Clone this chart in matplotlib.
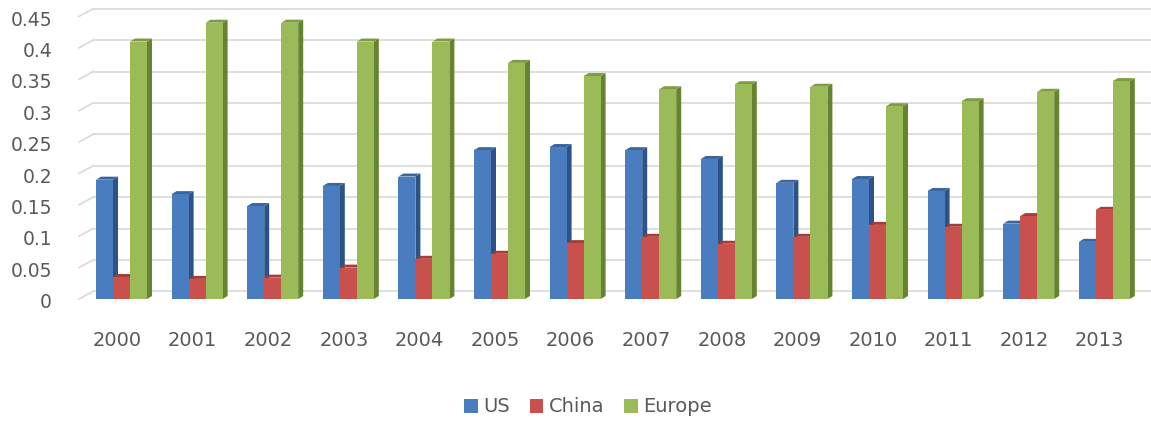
import matplotlib
matplotlib.use("Agg")
import matplotlib.pyplot as plt
from matplotlib.patches import Polygon, Rectangle, Patch

years = ["2000", "2001", "2002", "2003", "2004", "2005", "2006",
         "2007", "2008", "2009", "2010", "2011", "2012", "2013"]
us = [0.190, 0.167, 0.148, 0.180, 0.195, 0.237, 0.242,
      0.237, 0.223, 0.185, 0.191, 0.172, 0.120, 0.091]
china = [0.035, 0.032, 0.034, 0.050, 0.064, 0.072, 0.089,
         0.099, 0.088, 0.099, 0.118, 0.115, 0.132, 0.142]
europe = [0.410, 0.440, 0.440, 0.410, 0.410, 0.376, 0.355,
          0.334, 0.342, 0.338, 0.307, 0.315, 0.330, 0.347]
y_ticks = [0, 0.05, 0.1, 0.15, 0.2, 0.25, 0.3, 0.35, 0.4, 0.45]
y_tick_labels = ["0", "0.05", "0.1", "0.15", "0.2", "0.25", "0.3", "0.35", "0.4", "0.45"]

series = [("US", us), ("China", china), ("Europe", europe)]
# front, side, top shades per series
shades = {
    "US": ("#4a7cc0", "#2c5286", "#3a669f"),
    "China": ("#c8504d", "#8c2e2b", "#a83c39"),
    "Europe": ("#9bbb59", "#66832f", "#7e9c43"),
}

W, H = 1151, 421
fig = plt.figure(figsize=(W / 100, H / 100), dpi=100)
plt.rcParams["font.family"] = ["DejaVu Sans"]
text_c = "#595959"

# axes laid out in pixels: zero floor at y=299, category pitch ~75.6 px
left_px, base_px, px_per_cat, px_per_unit = 79, 299, 75.6, 628.0
ax = fig.add_axes([left_px / W, (H - base_px) / H, (W - left_px) / W, base_px / H])
x_lo = (left_px - 117) / px_per_cat
ax.set_xlim(x_lo, x_lo + (W - left_px) / px_per_cat)
ax.set_ylim(0, base_px / px_per_unit)
ax.axis("off")

grid_c = "#d9d9d9"
wall_dx = (93 - left_px) / px_per_cat
wall_dy = 0.012
x_hi = ax.get_xlim()[1]
for v in y_ticks:
    ax.plot([x_lo, x_lo + wall_dx], [v, v + wall_dy], color=grid_c, lw=1.2,
            clip_on=False, zorder=1)
    ax.plot([x_lo + wall_dx, x_hi], [v + wall_dy] * 2, color=grid_c, lw=1.2,
            clip_on=False, zorder=1)

for v, lab in zip(y_ticks, y_tick_labels):
    ax.text(x_lo - 27 / px_per_cat, v - 0.006, lab, ha="right", va="center",
            fontsize=13.5, color=text_c)

for i, yr in enumerate(years):
    ax.text(i, -41 / px_per_unit, yr, ha="center", va="center",
            fontsize=14, color=text_c)

bar_w = 17 / px_per_cat
offsets = [-21 / px_per_cat, -21 / px_per_cat + bar_w, -21 / px_per_cat + 2 * bar_w]
ddx, ddy = 5 / px_per_cat, 3 / px_per_unit

z = 2
for i in range(len(years)):
    for (name, vals), off in zip(series, offsets):
        front, side, top = shades[name]
        x0, h = i + off, vals[i]
        x1 = x0 + bar_w
        ax.add_patch(Polygon([(x1, 0), (x1 + ddx, ddy), (x1 + ddx, h + ddy), (x1, h)],
                             closed=True, facecolor=side, edgecolor="none", zorder=z))
        ax.add_patch(Polygon([(x0, h), (x1, h), (x1 + ddx, h + ddy), (x0 + ddx, h + ddy)],
                             closed=True, facecolor=top, edgecolor="none", zorder=z))
        ax.add_patch(Rectangle((x0, 0), bar_w, h, facecolor=front,
                               edgecolor="none", zorder=z))
        z += 1

handles = [Patch(facecolor=shades[n][0], label=n) for n, _ in series]
fig.legend(handles=handles, loc="center", bbox_to_anchor=(588 / W, 1 - 407 / H),
           ncol=3, frameon=False, fontsize=14, handlelength=0.7, handleheight=0.7,
           handletextpad=0.3, columnspacing=1.0, labelcolor=text_c)

fig.savefig("out.png", dpi=100)
